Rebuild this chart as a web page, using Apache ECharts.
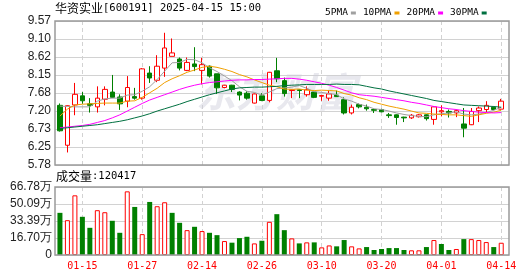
<!DOCTYPE html>
<html><head><meta charset="utf-8">
<script src="https://cdn.jsdelivr.net/npm/echarts@6/dist/echarts.min.js"></script>
<style>html,body{margin:0;padding:0;background:#fff}#c{width:530px;height:276px}</style>
</head><body><div id="c"></div>
<script>
const stockName = '华资实业';
const stockInfo = '[600191] 2025-04-15 15:00';
const dates = ['01-10','01-13','01-14','01-15','01-16','01-17','01-20','01-21','01-22','01-23',
  '01-24','01-27','02-05','02-06','02-07','02-10','02-11','02-12','02-13','02-14',
  '02-17','02-18','02-19','02-20','02-21','02-24','02-25','02-26','02-27','02-28',
  '03-03','03-04','03-05','03-06','03-07','03-10','03-11','03-12','03-13','03-14',
  '03-17','03-18','03-19','03-20','03-21','03-24','03-25','03-26','03-27','03-28',
  '03-31','04-01','04-02','04-03','04-07','04-08','04-09','04-10','04-11','04-14'];
const openP = [7.35,6.30,7.36,7.60,7.39,7.31,7.51,7.70,7.57,7.46,
  7.58,7.54,8.20,8.01,8.33,8.64,8.57,8.27,8.44,8.27,
  8.38,8.18,7.82,7.88,7.70,7.67,7.41,7.60,7.48,8.26,
  8.00,7.74,7.76,7.63,7.70,7.59,7.54,7.62,7.50,7.15,
  7.37,7.30,7.24,7.24,7.10,7.10,7.04,7.02,7.05,7.10,
  6.98,7.18,7.19,7.15,6.86,6.84,7.21,7.24,7.30,7.25];
const closeP = [6.68,7.34,7.64,7.47,7.35,7.54,7.77,7.56,7.39,7.82,
  7.54,8.31,8.07,8.38,8.86,8.73,8.33,8.48,8.37,8.42,
  8.12,7.81,7.88,7.77,7.62,7.54,7.65,7.48,8.22,8.05,
  7.66,7.76,7.74,7.76,7.56,7.61,7.65,7.58,7.15,7.30,
  7.31,7.26,7.22,7.18,7.08,7.03,7.02,7.09,7.10,7.00,
  7.31,7.21,7.15,7.21,6.75,7.19,7.28,7.35,7.24,7.46];
const lowP = [6.66,6.11,7.09,7.39,7.16,7.16,7.35,7.54,7.23,7.30,
  7.50,7.50,7.94,7.96,8.10,8.64,8.27,8.25,8.25,7.90,
  8.08,7.65,7.80,7.70,7.48,7.50,7.40,7.46,7.43,7.96,
  7.58,7.54,7.54,7.58,7.54,7.47,7.47,7.57,7.11,7.11,
  7.27,7.21,7.15,7.17,7.02,6.84,6.91,6.99,7.03,6.95,
  6.84,7.06,7.03,7.04,6.51,6.83,6.91,7.17,7.22,7.24];
const highP = [7.40,7.35,7.94,7.70,7.54,7.85,7.85,8.15,7.64,8.12,
  7.81,8.33,8.38,8.67,9.26,9.11,8.61,8.61,8.88,8.60,
  8.40,8.18,7.89,7.89,7.72,7.72,7.66,7.67,8.23,8.60,
  8.08,7.77,7.77,7.85,7.71,7.62,7.74,7.74,7.56,7.37,
  7.40,7.37,7.24,7.26,7.15,7.11,7.05,7.12,7.12,7.11,
  7.33,7.35,7.24,7.24,7.28,7.28,7.32,7.46,7.32,7.52];
const volumes = [414000,342000,586000,375000,267000,440000,420000,336000,218000,625000,
  472000,205000,521000,479000,518000,414000,316000,244000,277000,235000,
  218000,195000,137000,121000,166000,179000,114000,140000,326000,401000,
  244000,163000,114000,124000,124000,75000,94000,85000,147000,85000,
  65000,78000,49000,59000,68000,68000,49000,46000,46000,78000,
  147000,108000,49000,59000,156000,156000,147000,127000,78000,120417];
const ma5 = [7.33,7.32,7.31,7.31,7.31,7.46,7.52,7.54,7.54,7.62,
  7.63,7.72,7.84,8.03,8.25,8.47,8.48,8.56,8.55,8.47,
  8.34,8.24,8.12,8.00,7.84,7.72,7.69,7.62,7.70,7.79,
  7.81,7.83,7.87,7.80,7.71,7.69,7.66,7.63,7.52,7.46,
  7.38,7.33,7.26,7.24,7.20,7.15,7.11,7.08,7.06,7.05,
  7.10,7.13,7.15,7.18,7.12,7.10,7.12,7.16,7.22,7.30];
const ma10 = [7.07,7.25,7.36,7.38,7.39,7.40,7.41,7.41,7.41,7.46,
  7.47,7.56,7.68,7.80,7.95,8.05,8.13,8.22,8.28,8.35,
  8.38,8.35,8.30,8.24,8.16,8.10,8.02,7.95,7.88,7.84,
  7.78,7.77,7.78,7.75,7.74,7.75,7.74,7.73,7.66,7.62,
  7.55,7.50,7.43,7.38,7.33,7.29,7.25,7.20,7.15,7.14,
  7.12,7.11,7.10,7.10,7.08,7.06,7.10,7.14,7.17,7.22];
const ma20 = [6.76,6.78,6.80,6.82,6.85,6.90,6.95,7.02,7.10,7.20,
  7.30,7.40,7.49,7.56,7.63,7.70,7.77,7.83,7.88,7.92,
  7.95,7.97,7.99,8.01,8.02,8.02,8.03,8.03,8.04,8.05,
  8.06,8.06,8.04,8.01,7.97,7.93,7.88,7.82,7.75,7.68,
  7.63,7.61,7.59,7.56,7.53,7.50,7.47,7.43,7.40,7.36,
  7.32,7.29,7.26,7.24,7.21,7.19,7.17,7.16,7.15,7.16];
const ma30 = [6.74,6.76,6.78,6.80,6.82,6.84,6.87,6.90,6.93,6.97,
  7.02,7.07,7.13,7.20,7.26,7.32,7.38,7.45,7.51,7.57,
  7.63,7.68,7.73,7.78,7.81,7.82,7.83,7.83,7.84,7.85,
  7.87,7.88,7.89,7.90,7.90,7.90,7.90,7.91,7.90,7.90,
  7.89,7.85,7.81,7.78,7.73,7.69,7.65,7.61,7.57,7.53,
  7.48,7.45,7.42,7.39,7.36,7.35,7.34,7.33,7.32,7.30];
const priceTicks = ['5.78','6.25','6.73','7.20','7.68','8.15','8.62','9.10','9.57'];
const volTicks = ['0','16.70万','33.39万','50.09万','66.78万'];
const dateTicks = ['01-15','01-27','02-14','02-26','03-10','03-20','04-01','04-14'];
const maNames = ['5PMA','10PMA','20PMA','30PMA'];
const maColors = ['#a0a0a0','#f0a000','#ff00ff','#007040'];

const UP = '#ff0000', DOWN = '#008000';
const priceVals = priceTicks.map(Number);
const volVal = s => s === '0' ? 0 : parseFloat(s) * 10000;
const volVals = volTicks.map(volVal);
const tickIdx = dateTicks.map(d => dates.indexOf(d));
const MONO = 'DejaVu Sans Mono';
const SANS = 'Liberation Sans';

const candleData = dates.map((d, i) => [i, openP[i], closeP[i], lowP[i], highP[i]]);
const volData = volumes.map((v, i) => {
  const up = i > 0 ? closeP[i] > closeP[i - 1] : closeP[i] > openP[i];
  return {
    value: [i, v],
    itemStyle: up ? { color: '#fff', borderColor: UP, borderWidth: 1 } : { color: DOWN, borderColor: DOWN, borderWidth: 0 }
  };
});
const maArr = [ma5, ma10, ma20, ma30];

const xCommon = {
  type: 'value', min: -0.66, max: 60.04,
  axisLine: { show: false },
  axisTick: { show: false, customValues: tickIdx },
  splitLine: { show: true, lineStyle: { color: '#d2d2d2', type: [4, 3], width: 1 } }
};

const chart = echarts.init(document.getElementById('c'), null, { renderer: 'canvas' });
chart.setOption({
  animation: false,
  backgroundColor: '#fff',
  grid: [
    { left: 55, top: 21, width: 454, height: 144 },
    { left: 55, top: 187, width: 454, height: 68 }
  ],
  legend: {
    data: maNames, left: 320, top: 3, align: 'right', icon: 'rect',
    itemWidth: 5, itemHeight: 3, itemGap: 7,
    textStyle: { fontFamily: MONO, fontSize: 9.5, color: '#000', padding: [0, -2, 0, 0] },
    selectedMode: false
  },
  xAxis: [
    Object.assign({}, xCommon, { gridIndex: 0, axisLabel: { show: false, customValues: tickIdx } }),
    Object.assign({}, xCommon, { gridIndex: 1, axisLabel: {
      show: true, customValues: tickIdx, margin: 6, color: UP, fontFamily: MONO, fontSize: 10,
      formatter: v => dates[Math.round(v)] } })
  ],
  yAxis: [
    { type: 'value', gridIndex: 0, min: 5.78, max: 9.57,
      axisLine: { show: false }, axisTick: { show: false, customValues: priceVals },
      axisLabel: { customValues: priceVals, margin: 4, color: '#222', fontFamily: SANS, fontSize: 12,
        formatter: v => priceTicks[priceVals.indexOf(v)] },
      splitLine: { show: true, lineStyle: { color: '#d2d2d2', width: 1 } } },
    { type: 'value', gridIndex: 1, min: 0, max: volVals[volVals.length - 1],
      axisLine: { show: false }, axisTick: { show: false, customValues: volVals },
      axisLabel: { customValues: volVals, margin: 3, color: '#222', fontFamily: SANS, fontSize: 12,
        formatter: v => volTicks[volVals.indexOf(v)] },
      splitLine: { show: true, lineStyle: { color: '#d2d2d2', width: 1 } } }
  ],
  graphic: [
    { type: 'text', left: 55, top: 2, z: 10, style: {
      text: '{a|' + stockName + '}{b|' + stockInfo + '}',
      rich: { a: { fontFamily: 'Noto Sans CJK SC', fontSize: 12, fill: '#000' },
              b: { fontFamily: MONO, fontSize: 10.5, fill: '#000' } } } },
    { type: 'text', left: 56, top: 170, z: 10, style: {
      text: '{a|成交量}{b|:' + volumes[volumes.length - 1] + '}',
      rich: { a: { fontFamily: 'Noto Sans CJK SC', fontSize: 12, fill: '#000' },
              b: { fontFamily: MONO, fontSize: 10.5, fill: '#000' } } } },
    { type: 'text', left: 196, top: 72, z: 1, silent: true, style: {
      text: '东方财富', fontFamily: 'Noto Sans CJK SC', fontSize: 40, fontWeight: 'bold', fontStyle: 'italic',
      fill: 'rgba(205,205,218,0.45)' } },
    { type: 'rect', z: 10, silent: true, shape: { x: 55, y: 21, width: 454, height: 144 },
      style: { fill: null, stroke: '#9a9a9a', lineWidth: 1.5 } },
    { type: 'rect', z: 10, silent: true, shape: { x: 55, y: 187, width: 454, height: 68 },
      style: { fill: null, stroke: '#9a9a9a', lineWidth: 1.5 } }
  ],
  series: [
    { type: 'candlestick', name: 'K', xAxisIndex: 0, yAxisIndex: 0, data: candleData,
      encode: { x: 0, y: [1, 2, 3, 4] }, barWidth: 5, clip: false,
      itemStyle: { color: '#fff', color0: DOWN, borderColor: UP, borderColor0: DOWN, borderWidth: 1 } },
    { type: 'bar', name: 'VOL', xAxisIndex: 1, yAxisIndex: 1, data: volData, barWidth: 5, clip: false }
  ].concat(maNames.map((n, k) => ({
    type: 'line', name: n, xAxisIndex: 0, yAxisIndex: 0, showSymbol: false, symbol: 'none',
    data: maArr[k].map((v, i) => [i, v]), color: maColors[k],
    itemStyle: { color: maColors[k] },
    lineStyle: { color: maColors[k], width: 1 }, z: 3
  })))
});
</script></body></html>
